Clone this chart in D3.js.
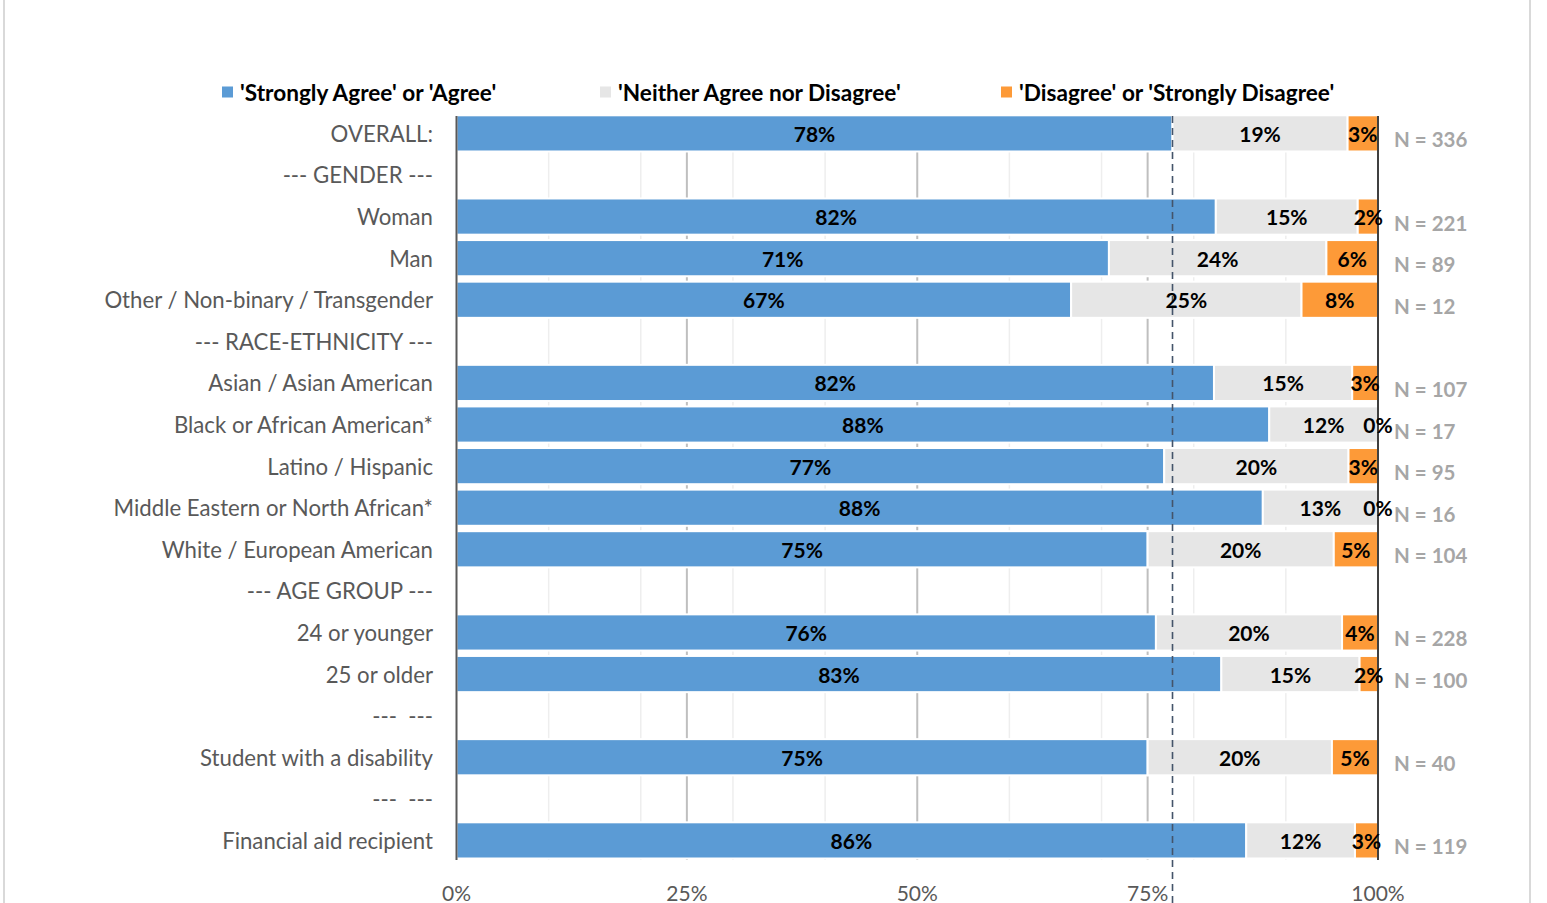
<!DOCTYPE html>
<html><head><meta charset="utf-8">
<script src="https://cdn.jsdelivr.net/npm/d3@7"></script>
<style>body{margin:0;background:#fff;} svg{display:block;font-family:Lato, "Open Sans", sans-serif;}</style>
</head><body>
<svg id="c" width="1547" height="903"></svg>
<script>
const categories = ["OVERALL:", "--- GENDER ---", "Woman", "Man", "Other / Non-binary / Transgender",
  "--- RACE-ETHNICITY ---", "Asian / Asian American", "Black or African American*", "Latino / Hispanic",
  "Middle Eastern or North African*", "White / European American", "--- AGE GROUP ---",
  "24 or younger", "25 or older", "---  ---", "Student with a disability", "---  ---", "Financial aid recipient"];
const agree    = [77.7, null, 82.4, 70.8, 66.7, null, 82.2, 88.2, 76.8, 87.5, 75.0, null, 75.9, 83.0, null, 75.0, null, 85.7];
const neutral  = [19.0, null, 15.4, 23.6, 25.0, null, 15.0, 11.8, 20.0, 12.5, 20.2, null, 20.2, 15.0, null, 20.0, null, 11.8];
const disagree = [3.3, null, 2.3, 5.6, 8.3, null, 2.8, 0, 3.2, 0, 4.8, null, 3.9, 2.0, null, 5.0, null, 2.5];
const nLabels  = ["N = 336", "", "N = 221", "N = 89", "N = 12", "", "N = 107", "N = 17", "N = 95", "N = 16", "N = 104", "",
  "N = 228", "N = 100", "", "N = 40", "", "N = 119"];
const seriesNames = ["'Strongly Agree' or 'Agree'", "'Neither Agree nor Disagree'", "'Disagree' or 'Strongly Disagree'"];
const seriesColors = ["#5b9bd5", "#e6e6e6", "#fd9a38"];
const xTicks = [0, 25, 50, 75, 100];
const gridMinor = [10, 20, 30, 40, 60, 70, 80, 90];
const overallRef = agree[0];

const svg = d3.select("#c");
const x = d3.scaleLinear().domain([0, 100]).range([456.5, 1378]);
const y = d3.scaleBand().domain(d3.range(categories.length)).range([112.6, 861.2]).paddingInner(0.13).paddingOuter(0.065);
const plotTop = 116, plotBottom = 860;

// outer frame lines
svg.append("line").attr("x1", 4).attr("x2", 4).attr("y1", 0).attr("y2", 903).attr("stroke", "#d9d9d9").attr("stroke-width", 2);
svg.append("line").attr("x1", 1530).attr("x2", 1530).attr("y1", 0).attr("y2", 903).attr("stroke", "#d9d9d9").attr("stroke-width", 2);

// gridlines
svg.append("g").selectAll("line").data(gridMinor).join("line")
  .attr("x1", d => x(d)).attr("x2", d => x(d)).attr("y1", plotTop).attr("y2", plotBottom)
  .attr("stroke", "#eeeeee").attr("stroke-width", 1.5);
svg.append("g").selectAll("line").data([25, 50, 75]).join("line")
  .attr("x1", d => x(d)).attr("x2", d => x(d)).attr("y1", plotTop).attr("y2", plotBottom)
  .attr("stroke", "#bfbfbf").attr("stroke-width", 2);

// stacked bars
const rows = categories.map((c, i) => ({i, vals: [agree[i], neutral[i], disagree[i]]})).filter(r => r.vals[0] !== null);
const segs = [];
rows.forEach(r => {
  let acc = 0;
  r.vals.forEach((v, k) => { segs.push({i: r.i, k, x0: acc, x1: acc + v, v}); acc += v; });
});
svg.append("g").selectAll("rect").data(segs.filter(s => s.v > 0)).join("rect")
  .attr("x", s => x(s.x0)).attr("width", s => x(s.x1) - x(s.x0))
  .attr("y", s => y(s.i)).attr("height", y.bandwidth())
  .attr("fill", s => seriesColors[s.k]).attr("stroke", "#fff").attr("stroke-width", 2);

// dashed overall reference line
svg.append("line").attr("x1", x(overallRef)).attr("x2", x(overallRef)).attr("y1", plotTop).attr("y2", 903)
  .attr("stroke", "#44546a").attr("stroke-width", 1.6).attr("stroke-dasharray", "7,5");

// axis lines
svg.append("line").attr("x1", x(0)).attr("x2", x(0)).attr("y1", plotTop).attr("y2", plotBottom).attr("stroke", "#595959").attr("stroke-width", 2);
svg.append("line").attr("x1", x(100)).attr("x2", x(100)).attr("y1", plotTop).attr("y2", plotBottom).attr("stroke", "#404040").attr("stroke-width", 2);

// segment labels
svg.append("g").selectAll("text").data(segs).join("text")
  .attr("x", s => (x(s.x0) + x(s.x1)) / 2).attr("y", s => y(s.i) + y.bandwidth() / 2)
  .attr("text-anchor", "middle").attr("dominant-baseline", "central")
  .attr("font-size", 21).attr("font-weight", "bold").attr("fill", "#000")
  .text(s => Math.round(s.v) + "%");

// category labels
svg.append("g").selectAll("text").data(categories).join("text")
  .attr("x", 433).attr("y", (d, i) => y(i) + y.bandwidth() / 2)
  .attr("text-anchor", "end").attr("dominant-baseline", "central")
  .attr("font-size", 22.2).attr("fill", "#595959").style("white-space", "pre")
  .text(d => d);

// N labels
svg.append("g").selectAll("text").data(nLabels).join("text")
  .attr("x", 1394).attr("y", (d, i) => y(i) + y.bandwidth() / 2 + 6)
  .attr("dominant-baseline", "central")
  .attr("font-size", 20.5).attr("font-weight", "bold").attr("fill", "#a6a6a6")
  .text(d => d);

// x tick labels
svg.append("g").selectAll("text").data(xTicks).join("text")
  .attr("x", d => x(d)).attr("y", 892).attr("text-anchor", "middle").attr("dominant-baseline", "central")
  .attr("font-size", 21).attr("fill", "#595959").text(d => d + "%");

// legend
const legX = [222, 600, 1001];
const leg = svg.append("g").selectAll("g").data(seriesNames).join("g")
  .attr("transform", (d, i) => `translate(${legX[i]},92)`);
leg.append("rect").attr("x", 0).attr("y", -5.5).attr("width", 11).attr("height", 11).attr("fill", (d, i) => seriesColors[i]);
leg.append("text").attr("x", 18).attr("y", 0).attr("dominant-baseline", "central")
  .attr("font-size", 22.6).attr("font-weight", "bold").attr("fill", "#000").text(d => d);
</script>
</body></html>
